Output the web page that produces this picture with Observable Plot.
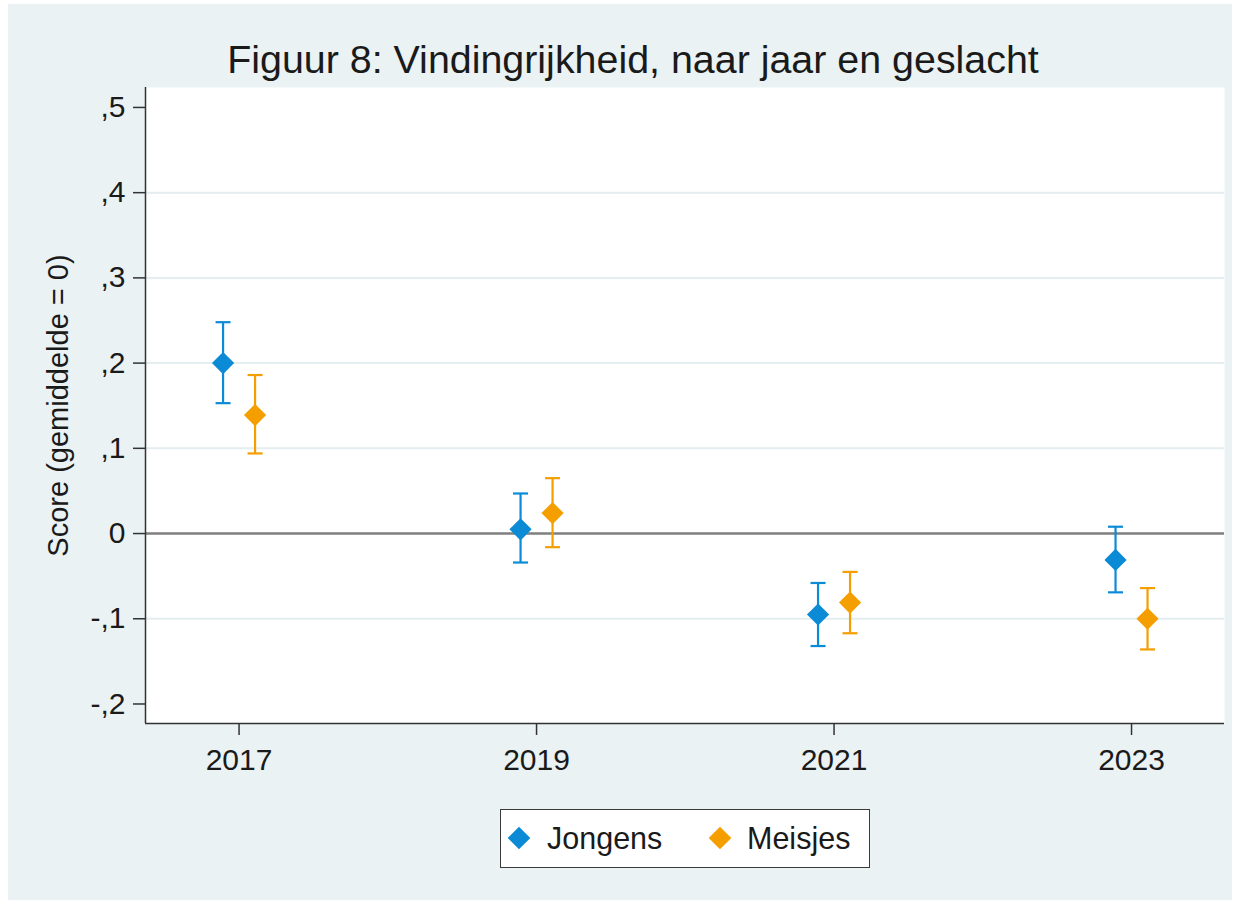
<!DOCTYPE html>
<html>
<head>
<meta charset="utf-8">
<script src="https://cdn.jsdelivr.net/npm/d3@7"></script>
<script src="https://cdn.jsdelivr.net/npm/@observablehq/plot@0.6"></script>
<style>
  html, body { margin: 0; padding: 0; background: #ffffff; }
  #chart { position: absolute; left: 8px; top: 4px; width: 1224px; height: 896px; background: #eaf2f3;
    font-family: "Liberation Sans", Arial, sans-serif; color: #1a1a1a; overflow: hidden; }
  #title { position: absolute; left: 0; top: 36px; width: 1250px; text-align: center; font-size: 39.4px; line-height: 39px; white-space: nowrap; }
  #plot { position: absolute; left: 0; top: 0; }
  #legend { position: absolute; left: 492px; top: 805px; width: 370px; height: 59px; box-sizing: border-box;
    border: 1.5px solid #3a3a3a; background: #ffffff; }
  .sw { position: absolute; width: 16px; height: 16px; transform: rotate(45deg); top: 20px; }
  .lt { position: absolute; font-size: 30.5px; line-height: 30px; top: 13px; white-space: nowrap; }
</style>
</head>
<body>
<div id="chart">
  <div id="plot"></div>
  <div id="title"></div>
  <div id="legend"></div>
</div>
<script>
// ---- data ----
const years = [2017, 2019, 2021, 2023];
const seriesNames = ["Jongens", "Meisjes"];
const seriesColors = ["#0b8ad6", "#f59e00"];
const jongensMean = [0.200, 0.005, -0.095, -0.031];
const jongensLow  = [0.153, -0.034, -0.132, -0.069];
const jongensHigh = [0.248, 0.047, -0.058, 0.008];
const meisjesMean = [0.139, 0.024, -0.081, -0.100];
const meisjesLow  = [0.094, -0.016, -0.117, -0.136];
const meisjesHigh = [0.186, 0.065, -0.045, -0.064];
const yTicks = [-0.2, -0.1, 0, 0.1, 0.2, 0.3, 0.4, 0.5];
const yTickLabels = ["-,2", "-,1", "0", ",1", ",2", ",3", ",4", ",5"];
const gridValues = [-0.1, 0.1, 0.2, 0.3, 0.4];
const titleText = "Figuur 8: Vindingrijkheid, naar jaar en geslacht";
const yLabel = "Score (gemiddelde = 0)";

// ---- tables ----
const jongens = years.map((y, i) => ({year: y, mean: jongensMean[i], lo: jongensLow[i], hi: jongensHigh[i]}));
const meisjes = years.map((y, i) => ({year: y, mean: meisjesMean[i], lo: meisjesLow[i], hi: meisjesHigh[i]}));

const xDomain = [2016.371, 2023.625];
const yDomain = [-0.2229, 0.5234];
const capSymbol = { draw(ctx) { ctx.moveTo(-7.5, 0); ctx.lineTo(7.5, 0); } };

function seriesMarks(table, color, dx) {
  return [
    Plot.ruleX(table, {x: "year", y1: "lo", y2: "hi", stroke: color, strokeWidth: 2.2, dx}),
    Plot.dot(table, {x: "year", y: "lo", symbol: capSymbol, stroke: color, strokeWidth: 2.2, fill: "none", dx}),
    Plot.dot(table, {x: "year", y: "hi", symbol: capSymbol, stroke: color, strokeWidth: 2.2, fill: "none", dx}),
    Plot.dot(table, {x: "year", y: "mean", symbol: "diamond2", r: 10, fill: color, stroke: "none", dx})
  ];
}

const H = 790;
const chart = Plot.plot({
  width: 1224,
  height: H,
  marginLeft: 137,
  marginRight: 8,
  marginTop: 83,
  marginBottom: H - 719,
  style: {background: "transparent", fontFamily: "'Liberation Sans', Arial, sans-serif", fontSize: "30px", color: "#1a1a1a", overflow: "visible"},
  x: {domain: xDomain},
  y: {domain: yDomain},
  marks: [
    Plot.frame({fill: "white", stroke: "none"}),
    Plot.ruleY(gridValues, {stroke: "#e4edef", strokeWidth: 2}),
    Plot.ruleY([0], {stroke: "#7f7f7f", strokeWidth: 2.5}),
    Plot.ruleX([xDomain[0]], {stroke: "#333333", strokeWidth: 1.5}),
    Plot.ruleY([yDomain[0]], {stroke: "#333333", strokeWidth: 1.5}),
    Plot.axisY({ticks: yTicks, tickFormat: d => yTickLabels[yTicks.indexOf(d)], tickSize: 12, tickPadding: 8,
      stroke: "#333333", strokeWidth: 1.5, fontSize: 30, label: null}),
    Plot.axisY({ticks: [], tickSize: 0, label: yLabel, labelAnchor: "center", labelArrow: "none", labelOffset: 98, fontSize: 29, dx: 7}),
    Plot.axisX({ticks: years, tickFormat: d => String(d), tickSize: 12, tickPadding: 13,
      stroke: "#333333", strokeWidth: 1.5, fontSize: 30, label: null}),
    ...seriesMarks(jongens, seriesColors[0], -16),
    ...seriesMarks(meisjes, seriesColors[1], 16)
  ]
});
document.getElementById("plot").appendChild(chart);
document.getElementById("title").textContent = titleText;

// ---- legend ----
const legend = document.getElementById("legend");
const swLeft = [10, 211];
const txtLeft = [46, 246];
seriesNames.forEach((name, i) => {
  const sw = document.createElement("div");
  sw.className = "sw";
  sw.style.left = swLeft[i] + "px";
  sw.style.background = seriesColors[i];
  legend.appendChild(sw);
  const t = document.createElement("div");
  t.className = "lt";
  t.style.left = txtLeft[i] + "px";
  t.textContent = name;
  legend.appendChild(t);
});
</script>
</body>
</html>
